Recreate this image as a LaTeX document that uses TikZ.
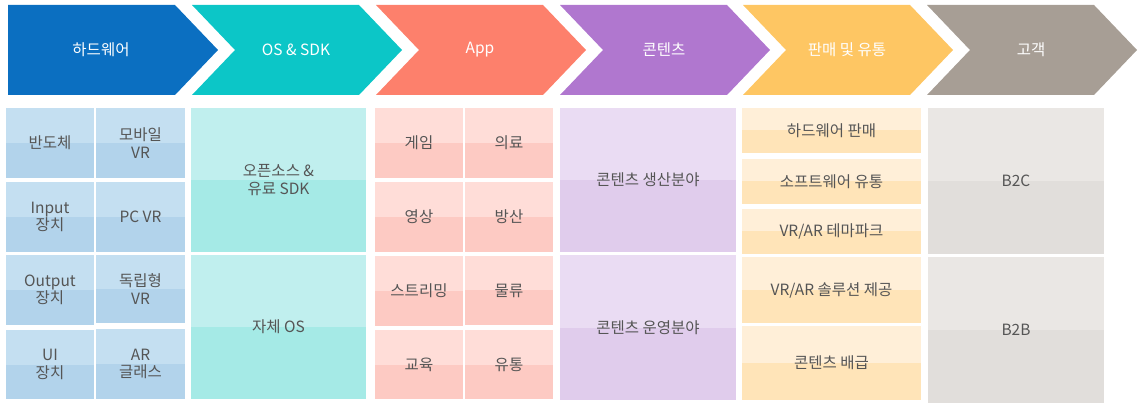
\documentclass[tikz,border=0pt]{standalone}
\usepackage{fontspec}
\setmainfont{Noto Sans CJK KR}
\usetikzlibrary{positioning}
\definecolor{txt}{HTML}{555555}
\definecolor{cHW}{HTML}{0B6FC1}
\definecolor{cOS}{HTML}{0CC6C7}
\definecolor{cAP}{HTML}{FD806C}
\definecolor{cCT}{HTML}{B077CF}
\definecolor{cSL}{HTML}{FEC663}
\definecolor{cCU}{HTML}{A79E95}
\definecolor{hwT}{HTML}{C4DFF1}
\definecolor{hwB}{HTML}{B2D3EB}
\definecolor{osT}{HTML}{C0EFEE}
\definecolor{osB}{HTML}{A5EAE6}
\definecolor{apT}{HTML}{FFDDD8}
\definecolor{apB}{HTML}{FDCAC3}
\definecolor{ctT}{HTML}{EADCF3}
\definecolor{ctB}{HTML}{E0CCEC}
\definecolor{slT}{HTML}{FFEFD8}
\definecolor{slB}{HTML}{FFE4B8}
\definecolor{cuT}{HTML}{EAE7E4}
\definecolor{cuB}{HTML}{E1DEDB}
\tikzset{
  chev/.style={fill=#1, draw=none},
  head/.style={text=white, font=\fontsize{15.5}{17.5}\selectfont, inner sep=0pt},
  cellbox/.style 2 args={fill=#2, draw=none, inner sep=0pt, align=center,
    text=txt, font=\fontsize{15.5}{17.5}\selectfont,
    path picture={\fill[#1] (path picture bounding box.north west) rectangle (path picture bounding box.east);}},
  wh/.style 2 args={minimum width=#1pt, minimum height=#2pt},
}
\begin{document}
\begin{tikzpicture}[x=1pt,y=-1pt]
\useasboundingbox (0,0) rectangle (1147,411);
% chevrons
\fill[chev=cHW] (8,5) -- (175,5) -- (218,50) -- (175,95) -- (8,95) -- cycle;
\foreach \x/\c in {192/cOS,376/cAP,560/cCT,743/cSL,927/cCU}{
  \fill[chev=\c] (\x,5) -- ({\x+167},5) -- ({\x+210},50) -- ({\x+167},95) -- (\x,95) -- ({\x+43},50) -- cycle;
}
\node[head] (h1) at (101,50) {하드웨어};
\node[head] (h2) at (296,50) {OS \& SDK};
\node[head] (h3) at (480,50) {App};
\node[head] (h4) at (664,50) {콘텐츠};
\node[head] (h5) at (847,50) {판매 및 유통};
\node[head] (h6) at (1031,50) {고객};
% hardware
\node[cellbox={hwT}{hwB}, wh={88}{70}] (hw11) at (50,143) {반도체};
\node[cellbox={hwT}{hwB}, wh={89}{70}] (hw12) at (140.5,143) {모바일\\VR};
\node[cellbox={hwT}{hwB}, wh={88}{70}] (hw21) at (50,217) {Input\\장치};
\node[cellbox={hwT}{hwB}, wh={89}{70}] (hw22) at (140.5,217) {PC VR};
\node[cellbox={hwT}{hwB}, wh={88}{70}] (hw31) at (50,290) {Output\\장치};
\node[cellbox={hwT}{hwB}, wh={89}{68}] (hw32) at (140.5,289) {독립형\\VR};
\node[cellbox={hwT}{hwB}, wh={88}{69}] (hw41) at (50,364.5) {UI\\장치};
\node[cellbox={hwT}{hwB}, wh={89}{70}] (hw42) at (140.5,364) {AR\\글래스};
% os
\node[cellbox={osT}{osB}, wh={175}{144}] (os1) at (278.5,180) {오픈소스 \&\\유료 SDK};
\node[cellbox={osT}{osB}, wh={175}{144}] (os2) at (278.5,327) {자체 OS};
% app
\node[cellbox={apT}{apB}, wh={88}{70}] (ap11) at (419,143) {게임};
\node[cellbox={apT}{apB}, wh={88}{70}] (ap12) at (509,143) {의료};
\node[cellbox={apT}{apB}, wh={88}{70}] (ap21) at (419,217) {영상};
\node[cellbox={apT}{apB}, wh={88}{70}] (ap22) at (509,217) {방산};
\node[cellbox={apT}{apB}, wh={88}{70}] (ap31) at (419,291) {스트리밍};
\node[cellbox={apT}{apB}, wh={88}{69}] (ap32) at (509,290.5) {물류};
\node[cellbox={apT}{apB}, wh={88}{69}] (ap41) at (419,364.5) {교육};
\node[cellbox={apT}{apB}, wh={88}{69}] (ap42) at (509,364.5) {유통};
% contents
\node[cellbox={ctT}{ctB}, wh={176}{144}] (ct1) at (648,180) {콘텐츠 생산분야};
\node[cellbox={ctT}{ctB}, wh={176}{145}] (ct2) at (648,327.5) {콘텐츠 운영분야};
% sales
\node[cellbox={slT}{slB}, wh={179}{45}] (sl1) at (831.5,130.5) {하드웨어 판매};
\node[cellbox={slT}{slB}, wh={179}{45}] (sl2) at (831.5,181.5) {소프트웨어 유통};
\node[cellbox={slT}{slB}, wh={179}{45}] (sl3) at (831.5,231.5) {VR/AR 테마파크};
\node[cellbox={slT}{slB}, wh={179}{66}] (sl4) at (831.5,290) {VR/AR 솔루션 제공};
\node[cellbox={slT}{slB}, wh={179}{74}] (sl5) at (831.5,363) {콘텐츠 배급};
% customers
\node[cellbox={cuT}{cuB}, wh={176}{146}] (cu1) at (1016,181) {B2C};
\node[cellbox={cuT}{cuB}, wh={176}{146}] (cu2) at (1016,330) {B2B};
\end{tikzpicture}
\end{document}
